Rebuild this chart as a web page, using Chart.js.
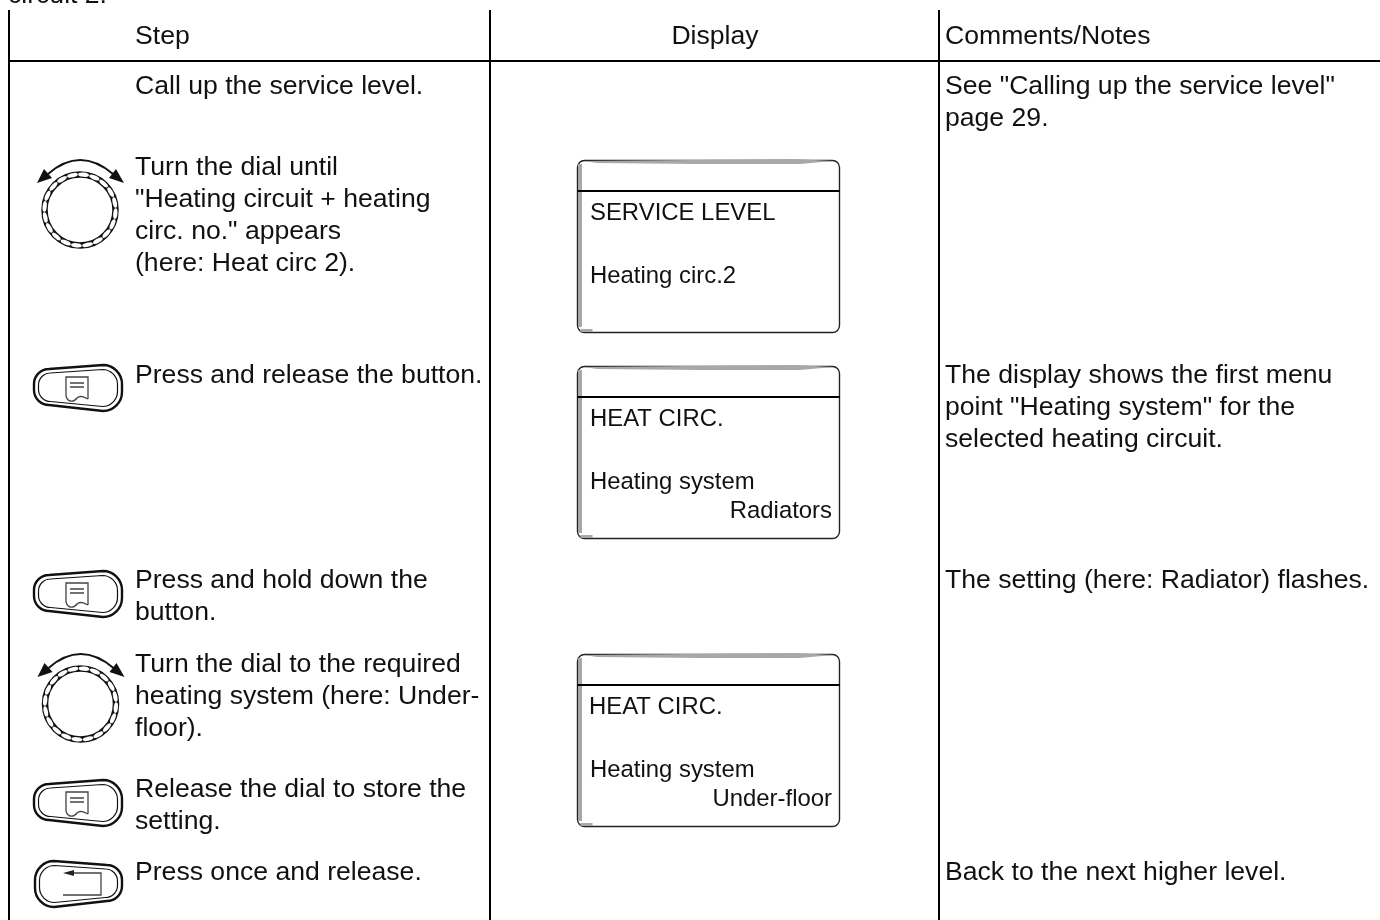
<!DOCTYPE html>
<html>
<head>
<meta charset="utf-8">
<title>Heating circuit service steps</title>
<script src="https://cdn.jsdelivr.net/npm/chart.js@4/dist/chart.umd.min.js"></script>
<style>
  html, body { margin: 0; padding: 0; background: #fff; overflow: hidden; }
  canvas { display: block; }
</style>
</head>
<body>
<canvas id="steps" width="1380" height="920"></canvas>
<script>
// table text, [label, x, baseline y]
const introLines = [['circuit 2.', 8, 3]];
const headerLines = [['Step', 135, 44], ['Comments/Notes', 945, 44]];
const stepLines = [
    ['Call up the service level.', 135, 94],
    ['Turn the dial until', 135, 175],
    ['"Heating circuit + heating', 135, 207],
    ['circ. no." appears', 135, 239],
    ['(here: Heat circ 2).', 135, 271],
    ['Press and release the button.', 135, 383],
    ['Press and hold down the', 135, 588],
    ['button.', 135, 620],
    ['Turn the dial to the required', 135, 672],
    ['heating system (here: Under-', 135, 704],
    ['floor).', 135, 736],
    ['Release the dial to store the', 135, 797],
    ['setting.', 135, 829],
    ['Press once and release.', 135, 880]
];
const noteLines = [
    ['See "Calling up the service level"', 945, 94],
    ['page 29.', 945, 126],
    ['The display shows the first menu', 945, 383],
    ['point "Heating system" for the', 945, 415],
    ['selected heating circuit.', 945, 447],
    ['The setting (here: Radiator) flashes.', 945, 588],
    ['Back to the next higher level.', 945, 880]
];
const displayLines = [
    ['SERVICE LEVEL', 590, 220],
    ['Heating circ.2', 590, 283],
    ['HEAT CIRC.', 590, 426],
    ['Heating system', 590, 489],
    ['HEAT CIRC.', 589, 714],
    ['Heating system', 590, 777]
];
const displayRight = [['Radiators', 832, 518], ['Under-floor', 832, 806]];

// table rules
const columnRules = [9, 490, 939];
const headerRule = 61;

// icons and display boxes
const displayTops = [160, 366, 654];
const dialCentres = [[80, 210], [80.5, 704]];
const menuButtons = [388, 594, 803];
const backButtons = [884];

const ruleData = columnRules.map(x => [{ x: x, y: 10 }, { x: x, y: 920 }]);
ruleData.push([{ x: 9, y: headerRule }, { x: 1380, y: headerRule }]);

function buttonOutline(ctx, l, t, r, b, lt, lb, el, er) {
    // left end is a bit shorter than the right, the print shows the button tilted
    const k = 0.45;
    ctx.beginPath();
    ctx.moveTo(l + el, t + lt);
    ctx.lineTo(r - er, t);
    ctx.bezierCurveTo(r - er * k, t, r, t + er * k, r, t + er);
    ctx.lineTo(r, b - er);
    ctx.bezierCurveTo(r, b - er * k, r - er * k, b, r - er, b);
    ctx.lineTo(l + el, b - lb);
    ctx.bezierCurveTo(l + el * k, b - lb, l, b - lb - el * k, l, b - lb - el);
    ctx.lineTo(l, t + lt + el);
    ctx.bezierCurveTo(l, t + lt + el * k, l + el * k, t + lt, l + el, t + lt);
    ctx.closePath();
    ctx.stroke();
}

function drawDial(ctx, cx, cy) {
    ctx.strokeStyle = '#111';
    ctx.lineWidth = 6.5;
    ctx.beginPath();
    ctx.arc(cx, cy, 35.5, 0, Math.PI * 2);
    ctx.stroke();
    ctx.fillStyle = '#fff';
    for (let i = 0; i < 20; i++) {
        const a = i * Math.PI / 10 + 0.1;
        ctx.beginPath();
        ctx.ellipse(cx + Math.cos(a) * 35.5, cy + Math.sin(a) * 35.5, 5.4, 2.1, a + Math.PI / 2, 0, Math.PI * 2);
        ctx.fill();
    }
    ctx.lineWidth = 2;
    ctx.beginPath();
    ctx.moveTo(cx - 32, cy - 36);
    ctx.quadraticCurveTo(cx, cy - 64, cx + 33, cy - 36);
    ctx.stroke();
    ctx.fillStyle = '#111';
    ctx.beginPath();
    ctx.moveTo(cx - 43, cy - 27);
    ctx.lineTo(cx - 36, cy - 41);
    ctx.lineTo(cx - 28, cy - 32);
    ctx.closePath();
    ctx.fill();
    ctx.beginPath();
    ctx.moveTo(cx + 44, cy - 27);
    ctx.lineTo(cx + 36, cy - 41);
    ctx.lineTo(cx + 29, cy - 32);
    ctx.closePath();
    ctx.fill();
}

function drawMenuButton(ctx, cy) {
    ctx.strokeStyle = '#111';
    ctx.lineWidth = 2.4;
    buttonOutline(ctx, 34, cy - 23, 122, cy + 23, 4, 6, 15, 19);
    ctx.lineWidth = 1.2;
    buttonOutline(ctx, 38.5, cy - 18.5, 117.5, cy + 18.5, 3.5, 5, 12, 15);
    ctx.strokeStyle = '#444';
    ctx.lineWidth = 1.3;
    ctx.beginPath();
    ctx.moveTo(88, cy + 11);
    ctx.lineTo(88, cy - 11);
    ctx.lineTo(66, cy - 11);
    ctx.lineTo(66, cy + 8);
    ctx.bezierCurveTo(68, cy + 15, 74, cy + 14, 77, cy + 10);
    ctx.bezierCurveTo(80, cy + 7, 84, cy + 9, 88, cy + 11);
    ctx.moveTo(70, cy - 5);
    ctx.lineTo(84, cy - 5);
    ctx.moveTo(70, cy - 1);
    ctx.lineTo(84, cy - 1);
    ctx.stroke();
}

function drawBackButton(ctx, cy) {
    ctx.strokeStyle = '#111';
    ctx.lineWidth = 2.4;
    // tilted the other way from the menu button
    ctx.save();
    ctx.translate(157, 0);
    ctx.scale(-1, 1);
    buttonOutline(ctx, 35, cy - 23, 122, cy + 23, 4, 6, 15, 19);
    ctx.lineWidth = 1.2;
    buttonOutline(ctx, 39.5, cy - 18.5, 117.5, cy + 18.5, 3.5, 5, 12, 15);
    ctx.restore();
    ctx.strokeStyle = '#444';
    ctx.lineWidth = 1.3;
    ctx.beginPath();
    ctx.moveTo(70, cy - 11);
    ctx.lineTo(101, cy - 11);
    ctx.lineTo(101, cy + 11);
    ctx.lineTo(63, cy + 11);
    ctx.stroke();
    ctx.fillStyle = '#222';
    ctx.beginPath();
    ctx.moveTo(63, cy - 11);
    ctx.lineTo(74, cy - 14);
    ctx.lineTo(74, cy - 8);
    ctx.closePath();
    ctx.fill();
}

function drawDisplay(ctx, top) {
    const l = 577.5, r = 839.5, b = top + 172;
    ctx.strokeStyle = '#222';
    ctx.lineWidth = 1.4;
    ctx.beginPath();
    ctx.roundRect(l, top + 0.5, r - l, b - top, 7);
    ctx.stroke();
    // grey bevel along the left, top and bottom left corner
    ctx.fillStyle = '#a8a8a8';
    ctx.fillRect(l + 0.5, top + 4, 4, b - top - 9);
    ctx.fillRect(l + 3, b - 3, 12, 3);
    ctx.beginPath();
    ctx.moveTo(l + 5, top + 1);
    ctx.lineTo(r - 45, top - 1);
    ctx.lineTo(r - 6, top + 1);
    ctx.lineTo(r - 40, top + 4);
    ctx.lineTo(l + 120, top + 4);
    ctx.lineTo(l + 20, top + 3);
    ctx.closePath();
    ctx.fill();
    ctx.strokeStyle = '#000';
    ctx.lineWidth = 2;
    ctx.beginPath();
    ctx.moveTo(l, top + 31);
    ctx.lineTo(r, top + 31);
    ctx.stroke();
}

const pagePlugin = {
    id: 'pagePlugin',
    afterDatasetsDraw(chart) {
        const ctx = chart.ctx;
        const sx = chart.scales.x, sy = chart.scales.y;
        ctx.save();
        displayTops.forEach(t => drawDisplay(ctx, sy.getPixelForValue(t)));
        dialCentres.forEach(c => drawDial(ctx, sx.getPixelForValue(c[0]), sy.getPixelForValue(c[1])));
        menuButtons.forEach(y => drawMenuButton(ctx, sy.getPixelForValue(y)));
        backButtons.forEach(y => drawBackButton(ctx, sy.getPixelForValue(y)));

        ctx.fillStyle = '#111';
        ctx.textBaseline = 'alphabetic';
        ctx.font = '26.6px "Liberation Sans"';
        ctx.textAlign = 'left';
        introLines.concat(headerLines, stepLines, noteLines).forEach(t => {
            ctx.fillText(t[0], sx.getPixelForValue(t[1]), sy.getPixelForValue(t[2]));
        });
        ctx.textAlign = 'center';
        ctx.fillText('Display', sx.getPixelForValue(715), sy.getPixelForValue(44));
        ctx.font = '23.9px "Liberation Sans"';
        ctx.textAlign = 'left';
        displayLines.forEach(t => {
            ctx.fillText(t[0], sx.getPixelForValue(t[1]), sy.getPixelForValue(t[2]));
        });
        ctx.textAlign = 'right';
        displayRight.forEach(t => {
            ctx.fillText(t[0], sx.getPixelForValue(t[1]), sy.getPixelForValue(t[2]));
        });
        ctx.restore();
    }
};

new Chart(document.getElementById('steps').getContext('2d'), {
    type: 'line',
    data: {
        datasets: ruleData.map(pts => ({
            data: pts,
            borderColor: '#000',
            borderWidth: 2,
            pointRadius: 0,
            tension: 0,
            clip: false
        }))
    },
    options: {
        responsive: false,
        animation: false,
        parsing: false,
        layout: { padding: 0 },
        plugins: { legend: { display: false }, tooltip: { enabled: false } },
        scales: {
            x: { type: 'linear', display: false, min: 0, max: 1380 },
            y: { type: 'linear', display: false, min: 0, max: 920, reverse: true }
        }
    },
    plugins: [pagePlugin]
});
</script>
</body>
</html>
